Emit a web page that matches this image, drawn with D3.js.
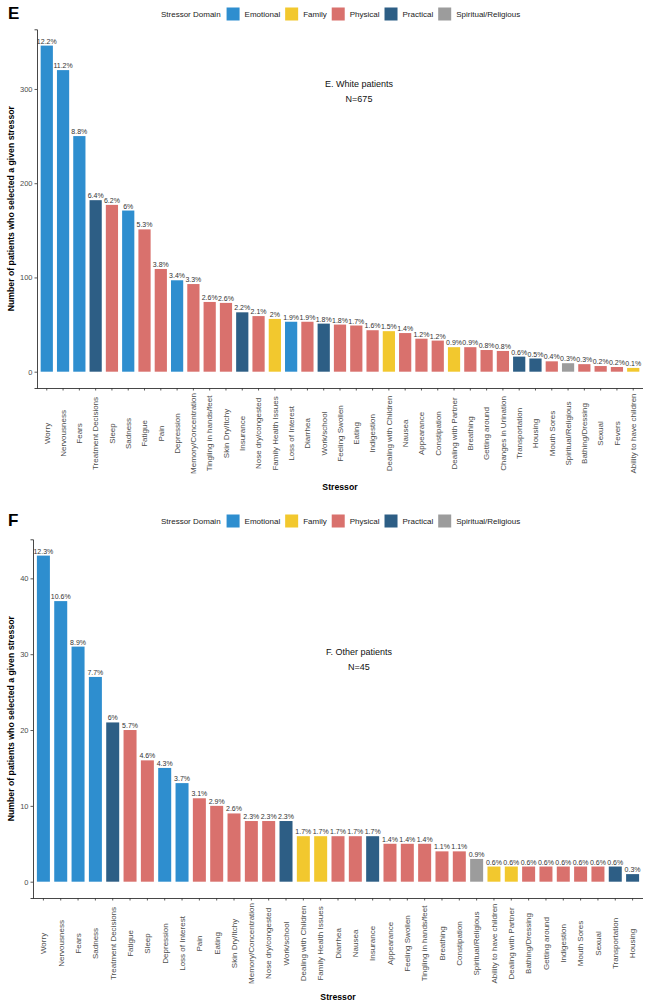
<!DOCTYPE html>
<html>
<head>
<meta charset="utf-8">
<script src="https://cdn.jsdelivr.net/npm/d3@7"></script>
<style>
  body { margin: 0; background: #fff; }
  svg { display: block; font-family: "Liberation Sans", Arial, sans-serif; }
</style>
</head>
<body>
<svg id="chart" width="650" height="1006"></svg>
<script>
// ---------- Data ----------
const domains = ["Emotional", "Family", "Physical", "Practical", "Spiritual/Religious"];
const domainColors = ["#2E8ECF", "#F2C82E", "#D9716D", "#2D5E85", "#9C9C9C"];

// Panel E: White patients (N=675)
const catsE = ["Worry","Nervousness","Fears","Treatment Decisions","Sleep","Sadness","Fatigue","Pain","Depression","Memory/Concentration","Tingling in hands/feet","Skin Dry/Itchy","Insurance","Nose dry/congested","Family Health Issues","Loss of Interest","Diarrhea","Work/school","Feeling Swollen","Eating","Indigestion","Dealing with Children","Nausea","Appearance","Constipation","Dealing with Partner","Breathing","Getting around","Changes in Urination","Transportation","Housing","Mouth Sores","Spiritual/Religious","Bathing/Dressing","Sexual","Fevers","Ability to have children"];
const valsE = [346,320,250,182,177,171,151,109,97,93,74,73,63,59,56,53,53,51,50,49,44,43,41,35,33,26,26,23,22,16,14,11,9,8,6,5,4];
const pctE = ["12.2%","11.2%","8.8%","6.4%","6.2%","6%","5.3%","3.8%","3.4%","3.3%","2.6%","2.6%","2.2%","2.1%","2%","1.9%","1.9%","1.8%","1.8%","1.7%","1.6%","1.5%","1.4%","1.2%","1.2%","0.9%","0.9%","0.8%","0.8%","0.6%","0.5%","0.4%","0.3%","0.3%","0.2%","0.2%","0.1%"];
const domE = ["Emotional","Emotional","Emotional","Practical","Physical","Emotional","Physical","Physical","Emotional","Physical","Physical","Physical","Practical","Physical","Family","Emotional","Physical","Practical","Physical","Physical","Physical","Family","Physical","Physical","Physical","Family","Physical","Physical","Physical","Practical","Practical","Physical","Spiritual/Religious","Physical","Physical","Physical","Family"];
const ticksE = [0, 100, 200, 300];

// Panel F: Other patients (N=45)
const catsF = ["Worry","Nervousness","Fears","Sadness","Treatment Decisions","Fatigue","Sleep","Depression","Loss of Interest","Pain","Eating","Skin Dry/Itchy","Memory/Concentration","Nose dry/congested","Work/school","Dealing with Children","Family Health Issues","Diarrhea","Nausea","Insurance","Appearance","Feeling Swollen","Tingling in hands/feet","Breathing","Constipation","Spiritual/Religious","Ability to have children","Dealing with Partner","Bathing/Dressing","Getting around","Indigestion","Mouth Sores","Sexual","Transportation","Housing"];
const valsF = [43,37,31,27,21,20,16,15,13,11,10,9,8,8,8,6,6,6,6,6,5,5,5,4,4,3,2,2,2,2,2,2,2,2,1];
const pctF = ["12.3%","10.6%","8.9%","7.7%","6%","5.7%","4.6%","4.3%","3.7%","3.1%","2.9%","2.6%","2.3%","2.3%","2.3%","1.7%","1.7%","1.7%","1.7%","1.7%","1.4%","1.4%","1.4%","1.1%","1.1%","0.9%","0.6%","0.6%","0.6%","0.6%","0.6%","0.6%","0.6%","0.6%","0.3%"];
const domF = ["Emotional","Emotional","Emotional","Emotional","Practical","Physical","Physical","Emotional","Emotional","Physical","Physical","Physical","Physical","Physical","Practical","Family","Family","Physical","Physical","Practical","Physical","Physical","Physical","Physical","Physical","Spiritual/Religious","Family","Family","Physical","Physical","Physical","Physical","Physical","Practical","Practical"];
const ticksF = [0, 10, 20, 30, 40];

// ---------- Drawing ----------
const svg = d3.select("#chart");
const color = d3.scaleOrdinal().domain(domains).range(domainColors);

function drawPanel(o) {
  const g = svg.append("g");
  const data = o.cats.map((c, i) => ({ cat: c, val: o.vals[i], pct: o.pct[i], dom: o.dom[i] }));
  const maxV = d3.max(o.vals);
  const x = d3.scaleBand().domain(o.cats).range([o.left, o.right])
    .paddingInner(0.25).paddingOuter(0.225);
  const y = d3.scaleLinear().domain([-0.05 * maxV, 1.05 * maxV]).range([o.bottom, o.top]);

  // Panel letter
  g.append("text").attr("x", 8).attr("y", o.letterY)
    .attr("font-size", 17).attr("font-weight", "bold").attr("fill", "#000")
    .attr("dominant-baseline", "central").text(o.letter);

  // Legend
  const lg = g.append("g").attr("transform", `translate(0,${o.legendY})`);
  let lx = 161;
  const t0 = lg.append("text").attr("x", lx).attr("y", 0).attr("dominant-baseline", "central")
    .attr("font-size", 8).attr("fill", "#222").text("Stressor Domain");
  lx += t0.node().getComputedTextLength() + 6;
  domains.forEach(d => {
    lg.append("rect").attr("x", lx).attr("y", -6.5).attr("width", 13).attr("height", 13)
      .attr("fill", color(d));
    lx += 13 + 5;
    const t = lg.append("text").attr("x", lx).attr("y", 0).attr("dominant-baseline", "central")
      .attr("font-size", 8).attr("fill", "#222").text(d);
    lx += t.node().getComputedTextLength() + 5;
  });

  // Bars
  g.append("g").selectAll("rect").data(data).join("rect")
    .attr("x", d => x(d.cat)).attr("width", x.bandwidth())
    .attr("y", d => y(d.val)).attr("height", d => y(0) - y(d.val))
    .attr("fill", d => color(d.dom));

  // Percent labels
  g.append("g").selectAll("text").data(data).join("text")
    .attr("x", d => x(d.cat) + x.bandwidth() / 2).attr("y", d => y(d.val) - 2)
    .attr("text-anchor", "middle").attr("font-size", 7).attr("fill", "#333")
    .text(d => d.pct);

  // Y axis
  const yAxis = d3.axisLeft(y).tickValues(o.ticks).tickSize(2.5).tickPadding(2);
  const ya = g.append("g").attr("transform", `translate(${o.left},0)`).call(yAxis);
  ya.select(".domain").attr("stroke", "#333").attr("stroke-width", 0.9);
  ya.selectAll(".tick line").attr("stroke", "#333").attr("stroke-width", 0.8);
  ya.selectAll(".tick text").attr("font-size", 7.5).attr("fill", "#4d4d4d")
    .attr("font-family", "Liberation Sans, Arial, sans-serif");

  // X axis
  const xAxis = d3.axisBottom(x).tickSize(2.5).tickPadding(0).tickSizeOuter(0);
  const xa = g.append("g").attr("transform", `translate(0,${o.bottom})`).call(xAxis);
  xa.select(".domain").attr("stroke", "#333").attr("stroke-width", 0.9)
    .attr("d", `M${o.left - x.paddingOuter()},0.5H${o.right}`);
  xa.select(".domain").attr("d", `M0,0.5H${o.right - o.left}`).attr("transform", `translate(${o.left},0)`);
  xa.selectAll(".tick line").attr("stroke", "#333").attr("stroke-width", 0.8);
  const labels = xa.selectAll(".tick text").attr("font-size", 8).attr("fill", "#4d4d4d")
    .attr("font-family", "Liberation Sans, Arial, sans-serif");
  let maxLen = 0;
  labels.each(function () { maxLen = Math.max(maxLen, this.getComputedTextLength()); });
  const cy = 5 + maxLen / 2;
  labels.attr("transform", `translate(0,${cy}) rotate(-90)`)
    .attr("x", 0).attr("y", 0).attr("dy", "0.35em").attr("text-anchor", "middle");

  // Axis titles
  g.append("text").attr("x", (o.left + o.right) / 2).attr("y", o.bottom + 99)
    .attr("text-anchor", "middle").attr("dominant-baseline", "central")
    .attr("font-size", 8.7).attr("font-weight", "bold").attr("fill", "#000").text("Stressor");
  g.append("text")
    .attr("transform", `translate(11,${(o.top + o.bottom) / 2}) rotate(-90)`)
    .attr("text-anchor", "middle").attr("dominant-baseline", "central")
    .attr("font-size", 8.7).attr("font-weight", "bold").attr("fill", "#000")
    .text("Number of patients who selected a given stressor");

  // Annotation
  g.append("text").attr("x", 359).attr("y", o.annY).attr("text-anchor", "middle")
    .attr("dominant-baseline", "central").attr("font-size", 9).attr("fill", "#111").text(o.ann1);
  g.append("text").attr("x", 359).attr("y", o.annY + 15).attr("text-anchor", "middle")
    .attr("dominant-baseline", "central").attr("font-size", 9).attr("fill", "#111").text(o.ann2);
}

drawPanel({
  letter: "E", letterY: 13, legendY: 14,
  cats: catsE, vals: valsE, pct: pctE, dom: domE, ticks: ticksE,
  left: 37, right: 643, top: 29.3, bottom: 388,
  ann1: "E. White patients", ann2: "N=675", annY: 84
});
drawPanel({
  letter: "F", letterY: 520, legendY: 521,
  cats: catsF, vals: valsF, pct: pctF, dom: domF, ticks: ticksF,
  left: 33, right: 643, top: 539.3, bottom: 898,
  ann1: "F. Other patients", ann2: "N=45", annY: 652
});
</script>
</body>
</html>
